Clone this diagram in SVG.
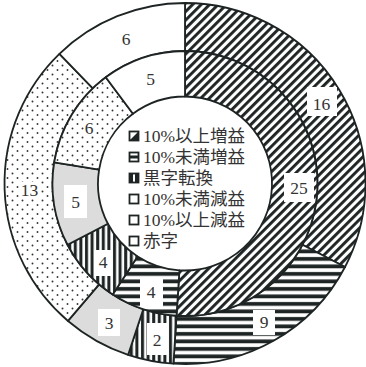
<svg xmlns="http://www.w3.org/2000/svg" width="366" height="367" viewBox="0 0 366 367">
<defs>
<pattern id="diag" patternUnits="userSpaceOnUse" width="6" height="6" patternTransform="rotate(45)"><rect width="6" height="6" fill="#fff"/><rect x="0" y="0" width="2.9" height="6" fill="#1e2424"/></pattern>
<pattern id="horiz" patternUnits="userSpaceOnUse" width="8" height="7.5"><rect width="8" height="7.5" fill="#fff"/><rect x="0" y="2" width="8" height="3.8" fill="#1e2424"/></pattern>
<pattern id="vert" patternUnits="userSpaceOnUse" width="5.6" height="8"><rect width="5.6" height="8" fill="#fff"/><rect x="1" y="0" width="3" height="8" fill="#1e2424"/></pattern>
<pattern id="dots" patternUnits="userSpaceOnUse" width="10" height="9"><rect width="10" height="9" fill="#fff"/><circle cx="2.5" cy="2.5" r="0.95" fill="#333"/><circle cx="7.5" cy="7" r="0.95" fill="#333"/></pattern>
</defs>
<style>
.seg{stroke:#1e2424;stroke-width:1.8;stroke-linejoin:round}
.d{fill:url(#diag)}.h{fill:url(#horiz)}.v{fill:url(#vert)}.g{fill:#dcdcdc}.p{fill:url(#dots)}.w{fill:#fff}
.box{fill:#fff}
.num{font-family:"Liberation Serif","DejaVu Serif",serif;font-size:17.5px;fill:#333;text-anchor:middle}
.leg{font-family:"Liberation Serif","Noto Sans CJK JP",serif;font-size:17.5px;fill:#333}
.ico{fill:#fff;stroke:#1e2424;stroke-width:1.8}
.icf{fill:#1e2424}
</style>
<rect width="366" height="367" fill="#fff"/>
<g id="outer-ring">
<path id="o-16" class="seg d" d="M185,3 A180.5,180.5 0 0 1 345.03,266.99 L302.47,244.79 A132.5,132.5 0 0 0 185,51 Z"/>
<path id="o-9" class="seg h" d="M345.03,266.99 A180.5,180.5 0 0 1 173.44,363.63 L176.51,315.73 A132.5,132.5 0 0 0 302.47,244.79 Z"/>
<path id="o-2" class="seg v" d="M173.44,363.63 A180.5,180.5 0 0 1 128.12,354.81 L143.25,309.25 A132.5,132.5 0 0 0 176.51,315.73 Z"/>
<path id="o-3" class="seg g" d="M128.12,354.81 A180.5,180.5 0 0 1 67.99,320.94 L99.11,284.39 A132.5,132.5 0 0 0 143.25,309.25 Z"/>
<path id="o-13" class="seg p" d="M67.99,320.94 A180.5,180.5 0 0 1 59.43,53.84 L92.82,88.32 A132.5,132.5 0 0 0 99.11,284.39 Z"/>
<path id="o-6" class="seg w" d="M59.43,53.84 A180.5,180.5 0 0 1 185,3 L185,51 A132.5,132.5 0 0 0 92.82,88.32 Z"/>
</g>
<g id="inner-ring">
<path id="i-25" class="seg d" d="M185,51 A132.5,132.5 0 1 1 176.51,315.73 L179.43,270.32 A87,87 0 1 0 185,96.5 Z"/>
<path id="i-4h" class="seg h" d="M176.51,315.73 A132.5,132.5 0 0 1 112.72,294.55 L137.54,256.41 A87,87 0 0 0 179.43,270.32 Z"/>
<path id="i-4v" class="seg v" d="M112.72,294.55 A132.5,132.5 0 0 1 67.53,244.79 L107.87,223.74 A87,87 0 0 0 137.54,256.41 Z"/>
<path id="i-5g" class="seg g" d="M67.53,244.79 A132.5,132.5 0 0 1 54.2,162.35 L99.12,169.61 A87,87 0 0 0 107.87,223.74 Z"/>
<path id="i-6" class="seg p" d="M54.2,162.35 A132.5,132.5 0 0 1 105.75,77.31 L132.96,113.78 A87,87 0 0 0 99.12,169.61 Z"/>
<path id="i-5w" class="seg w" d="M105.75,77.31 A132.5,132.5 0 0 1 185,51 L185,96.5 A87,87 0 0 0 132.96,113.78 Z"/>
</g>
<g id="labels">
<g id="l-16"><rect class="box" x="307" y="87" width="30" height="29"/><text class="num" x="321.5" y="110">16</text></g>
<g id="l-25"><rect class="box" x="284" y="173" width="30" height="29"/><text class="num" x="299" y="194">25</text></g>
<g id="l-9"><rect class="box" x="253" y="310" width="22" height="25"/><text class="num" x="264" y="327.5">9</text></g>
<g id="l-2"><rect class="box" x="147" y="323" width="21" height="32"/><text class="num" x="157" y="345.5">2</text></g>
<g id="l-3"><rect class="box" x="98" y="309" width="22" height="27"/><text class="num" x="109" y="329">3</text></g>
<g id="l-13"><rect class="box" x="20" y="182" width="19" height="17"/><text class="num" x="29.5" y="196">13</text></g>
<g id="l-6o"><text class="num" x="126" y="44.5">6</text></g>
<g id="l-5w"><text class="num" x="150.5" y="84.5">5</text></g>
<g id="l-6i"><rect class="box" x="84" y="120" width="10" height="14"/><text class="num" x="89" y="133.5">6</text></g>
<g id="l-5g"><rect class="box" x="64" y="185" width="23" height="33"/><text class="num" x="75.5" y="207.5">5</text></g>
<g id="l-4v"><rect class="box" x="94" y="250" width="18" height="26"/><text class="num" x="103" y="267.5">4</text></g>
<g id="l-4h"><rect class="box" x="140" y="277" width="23" height="30"/><text class="num" x="151" y="297.5">4</text></g>
</g>
<g id="legend">
<g id="lg1"><rect class="ico" x="129.5" y="131.5" width="9" height="9"/><path class="icf" d="M138.5,131.5 L138.5,140.5 L129.5,140.5 Z"/><text class="leg" x="143" y="142">10%以上増益</text></g>
<g id="lg2"><rect class="ico" x="129.5" y="152.5" width="9" height="9"/><rect class="icf" x="129.5" y="155.5" width="9" height="3"/><text class="leg" x="143" y="163">10%未満増益</text></g>
<g id="lg3"><rect class="ico" x="129.5" y="173.5" width="9" height="9"/><rect class="icf" x="130" y="173.5" width="3" height="9"/><rect class="icf" x="135" y="173.5" width="3" height="9"/><text class="leg" x="143" y="184">黒字転換</text></g>
<g id="lg4"><rect class="ico" x="129.5" y="194.5" width="9" height="9"/><text class="leg" x="143" y="205">10%未満減益</text></g>
<g id="lg5"><rect class="ico" x="129.5" y="215.5" width="9" height="9"/><text class="leg" x="143" y="226">10%以上減益</text></g>
<g id="lg6"><rect class="ico" x="129.5" y="236.5" width="9" height="9"/><text class="leg" x="143" y="247">赤字</text></g>
</g>
<g id="connectors"/>
</svg>
